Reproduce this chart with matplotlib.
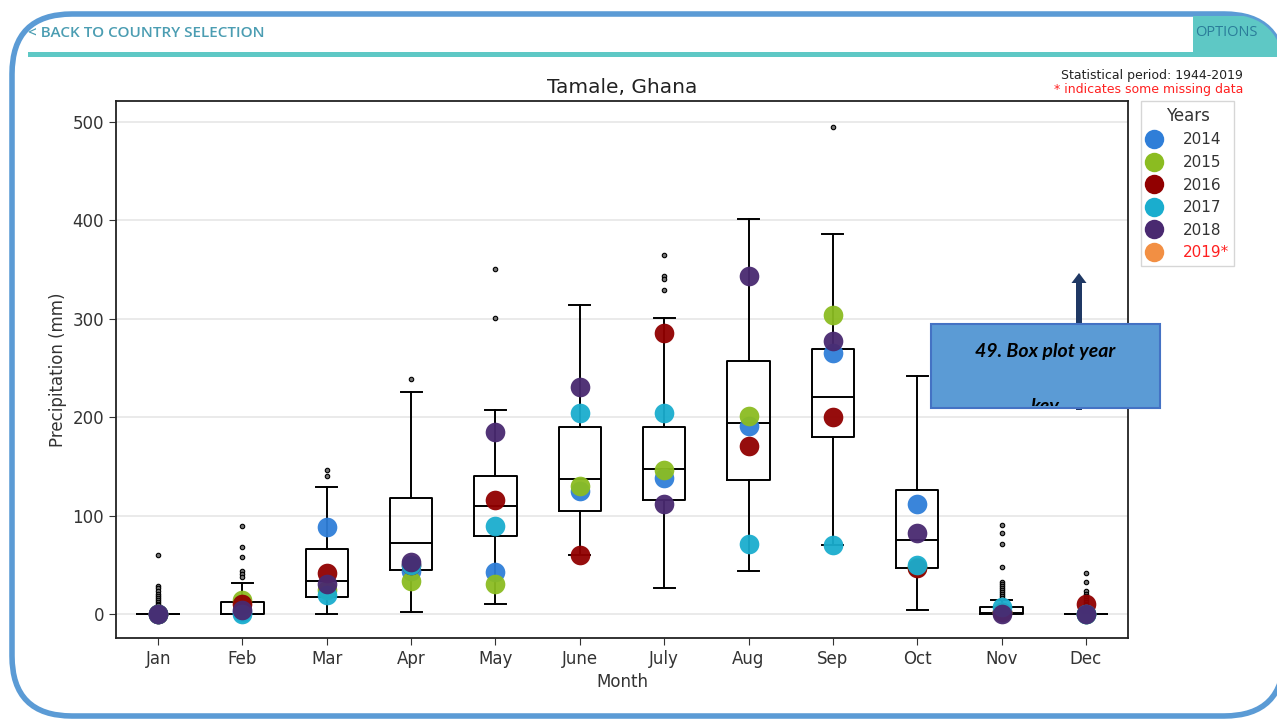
import matplotlib.pyplot as plt
from matplotlib.lines import Line2D
from matplotlib.patches import FancyBboxPatch, Rectangle, FancyArrow
from matplotlib.transforms import Bbox, TransformedBbox

plt.rcParams["font.family"] = ["DejaVu Sans"]

months = ["Jan", "Feb", "Mar", "Apr", "May", "June", "July", "Aug", "Sep", "Oct", "Nov", "Dec"]

# box plot statistics (mm)
box_q1 = [0, 0, 18, 45, 80, 105, 116, 136, 180, 47, 0, 0]
box_med = [0, 0, 34, 72, 110, 137, 148, 194, 221, 75, 1, 0]
box_q3 = [0, 13, 66, 118, 140, 190, 190, 257, 269, 126, 7, 0]
whisker_low = [0, 0, 0, 2, 10, 60, 27, 44, 70, 4, 0, 0]
whisker_high = [0, 32, 129, 226, 207, 314, 301, 401, 386, 242, 15, 0]
outliers = [
    [60, 29, 27, 24, 21, 19, 17, 15, 13, 11, 9, 7, 5, 3, 1],
    [90, 68, 58, 44, 41, 38],
    [146, 140],
    [239],
    [351, 301],
    [],
    [365, 343, 340, 329],
    [],
    [495],
    [],
    [91, 83, 71, 48, 33, 31, 29, 27, 25, 23, 21, 19, 17],
    [42, 33, 24, 21, 19, 17, 15, 13, 11, 9, 7, 5, 3, 1],
]

years = ["2014", "2015", "2016", "2017", "2018", "2019*"]
year_colors = ["#2f7ed8", "#8bbc21", "#910000", "#1aadce", "#492970", "#f28f43"]
precip_2014 = [0, 2, 89, 44, 43, 125, 138, 191, 265, 112, 2, 0]
precip_2015 = [0, 15, 25, 34, 31, 130, 146, 201, 304, 48, 2, 0]
precip_2016 = [0, 10, 42, 50, 116, 60, 286, 171, 200, 47, 2, 10]
precip_2017 = [0, 0, 20, 50, 90, 204, 204, 71, 70, 50, 7, 0]
precip_2018 = [0, 4, 31, 53, 185, 231, 112, 343, 277, 83, 0, 0]
year_values = [precip_2014, precip_2015, precip_2016, precip_2017, precip_2018]

fig = plt.figure(figsize=(12.77, 7.21), dpi=100)

# page background: rounded frame and header, in pixel units
bg = fig.add_axes([0, 0, 1, 1], zorder=-1)
bg.set_xlim(0, 1277)
bg.set_ylim(721, 0)
bg.axis("off")

# filled frame, so the stroke is not cut up at the canvas edge
frame = FancyBboxPatch((12, 14), 1272, 702, boxstyle="round,pad=0,rounding_size=60",
                       facecolor="white", edgecolor="#5b9bd5", linewidth=4, zorder=1)
bg.add_patch(frame)
bar = Rectangle((28, 52), 1260, 5, facecolor="#5ec8c5", edgecolor="none", zorder=2)
opt = Rectangle((1193, 16), 100, 36, facecolor="#5ec8c5", edgecolor="none", zorder=2)
for p in (bar, opt):
    bg.add_patch(p)
    p.set_clip_path(frame)
bg.text(28, 33, "< BACK TO COUNTRY SELECTION", fontsize=11, family="Open Sans",
        fontweight="semibold", color="#4b9db2", va="center", ha="left", zorder=3)
bg.text(1195, 33, "OPTIONS", fontsize=10.5, family="Open Sans",
        color="#2b7d9a", va="center", ha="left", zorder=3)

ax = fig.add_axes([116 / 1277, 1 - 638 / 721, 1012 / 1277, 537 / 721])

stats = []
for i in range(len(months)):
    stats.append({"med": box_med[i], "q1": box_q1[i], "q3": box_q3[i],
                  "whislo": whisker_low[i], "whishi": whisker_high[i],
                  "fliers": outliers[i]})

pos = list(range(1, len(months) + 1))
line_style = dict(color="black", linewidth=1.4)
ax.bxp(stats, positions=pos, widths=0.5, capwidths=0.25,
       boxprops=line_style, medianprops=line_style,
       whiskerprops=line_style, capprops=line_style,
       flierprops=dict(marker="o", markersize=3.2, markerfacecolor="#777777",
                       markeredgecolor="black", markeredgewidth=0.8),
       zorder=3)

for vals, col in zip(year_values, year_colors):
    ax.scatter(pos, vals, s=200, color=col, alpha=0.95, zorder=4, linewidths=0)

ax.set_xlim(0.5, 12.5)
ax.set_ylim(-24, 521)
ax.set_xticks(pos)
ax.set_xticklabels(months)
ax.set_yticks([0, 100, 200, 300, 400, 500])
ax.tick_params(labelsize=12, length=5, colors="#333333", labelcolor="#333333")
ax.grid(axis="y", color="#e6e6e6", linewidth=1.2, zorder=0)
ax.set_axisbelow(True)
for sp in ax.spines.values():
    sp.set_linewidth(1.3)
    sp.set_color("#222222")
ax.set_xlabel("Month", fontsize=12, color="#333333")
ax.set_ylabel("Precipitation (mm)", fontsize=12, color="#333333")
ax.set_title("Tamale, Ghana", fontsize=14.5, color="#222222", pad=6)

handles = [Line2D([], [], marker="o", linestyle="", markersize=14,
                  markerfacecolor=c, markeredgewidth=0) for c in year_colors]
leg = ax.legend(handles, years, title="Years", loc="upper left",
                bbox_to_anchor=(1.008, 1.008), fontsize=11, title_fontsize=12,
                frameon=True, edgecolor="#cccccc", fancybox=False,
                handlelength=1.0, handletextpad=1.4, labelspacing=0.5,
                borderpad=0.35, borderaxespad=0.3)
for t in leg.get_texts():
    t.set_color("#333333")
leg.get_texts()[-1].set_color("#ff2020")
leg.get_title().set_color("#333333")

fig.text(1243 / 1277, 1 - 76 / 721, "Statistical period: 1944-2019", ha="right",
         va="center", fontsize=9, color="#222222")
fig.text(1243 / 1277, 1 - 89 / 721, "* indicates some missing data", ha="right",
         va="center", fontsize=9, color="#ff2020")

# annotation box on top of the chart
ov = fig.add_axes([0, 0, 1, 1], zorder=10)
ov.set_xlim(0, 1277)
ov.set_ylim(721, 0)
ov.axis("off")
ov.patch.set_alpha(0)

ov.add_patch(FancyArrow(1079, 410, 0, -137, width=6, head_width=15, head_length=10,
                        length_includes_head=True, color="#1f3864", linewidth=0))
box = Rectangle((931, 324), 229, 84, facecolor="#5b9bd5", edgecolor="#4472c4", linewidth=1.5)
ov.add_patch(box)
ov.text(1045, 351, "49. Box plot year", fontsize=14, family="Lato", fontweight="bold",
        style="italic", color="black", ha="center", va="center")
key_txt = ov.text(1045, 412, "key", fontsize=14, family="Lato", fontweight="bold",
                  style="italic", color="black", ha="center", va="baseline")
key_txt.set_clip_on(True)
key_txt.set_clip_box(TransformedBbox(Bbox([[931, 324], [1160, 406]]), ov.transData))

fig.savefig("out.png", dpi=100)
